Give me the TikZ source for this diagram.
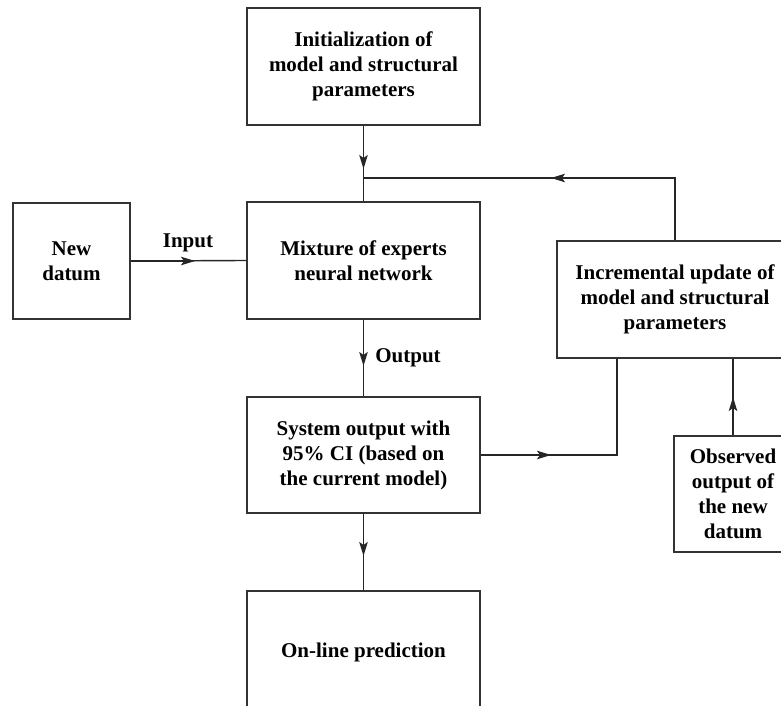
\documentclass[tikz,border=0pt]{standalone}
\usepackage{fontspec}
\setmainfont{Liberation Serif}
\usetikzlibrary{arrows.meta}
\tikzset{
  box/.style={draw=black!80, line width=1.5pt, align=center, inner sep=0pt,
    font=\fontsize{21}{25}\selectfont\bfseries, text=black},
  lbl/.style={font=\fontsize{21}{25}\selectfont\bfseries, text=black, inner sep=0pt},
  conn/.style={draw=black!85, line width=1.4pt},
  arr/.style={conn, -{Stealth[length=14pt,width=8.5pt,inset=3pt]}}
}
\begin{document}
\begin{tikzpicture}[x=1pt,y=-1pt]
\useasboundingbox (0,0) rectangle (781,706);
\clip (0,0) rectangle (781,706);
\node[box, minimum width=233pt, minimum height=117pt] (init) at (363.5,66.5)
  {Initialization of\\model and structural\\parameters};
\node[box, minimum width=233pt, minimum height=117pt] (mix) at (363.5,260.5)
  {Mixture of experts\\neural network};
\node[box, minimum width=117pt, minimum height=116pt] (datum) at (71.5,261)
  {New\\datum};
\node[box, minimum width=233pt, minimum height=116pt] (sys) at (363.5,455)
  {System output with\\95\% CI (based on\\the current model)};
\node[box, minimum width=233pt, minimum height=122pt] (pred) at (363.5,652)
  {On-line prediction};
\node[box, minimum width=236pt, minimum height=117pt] (upd) at (675,299.5)
  {Incremental update of\\model and structural\\parameters};
\node[box, minimum width=118pt, minimum height=116pt] (obs) at (733,494)
  {Observed\\output of\\the new\\datum};
\coordinate (j) at (363.5,178);
\coordinate (k) at (617,455);
\coordinate (t1) at (363.5,169);
\coordinate (t2) at (551,178);
\coordinate (t3) at (195,261);
\coordinate (t4) at (363.5,366);
\coordinate (t5) at (363.5,556);
\coordinate (t6) at (551,455);
\coordinate (t7) at (733,397);
\draw[conn] (init.south) -- (mix.north);
\draw[arr] (init.south) -- (t1);
\draw[conn] (upd.north) -- (upd.north |- j) -- (j);
\draw[arr] (upd.north |- j) -- (t2);
\draw[conn] (datum.east) -- (mix.west);
\draw[arr] (datum.east) -- (t3);
\draw[conn] (mix.south) -- (sys.north);
\draw[arr] (mix.south) -- (t4);
\draw[conn] (sys.south) -- (pred.north);
\draw[arr] (sys.south) -- (t5);
\draw[conn] (sys.east) -- (k) -- (k |- upd.south);
\draw[arr] (sys.east) -- (t6);
\draw[conn] (obs.north) -- (obs.north |- upd.south);
\draw[arr] (obs.north) -- (t7);
\node[lbl] (inlbl) at (188,243) {Input};
\node[lbl] (outlbl) at (408,358) {Output};
\end{tikzpicture}
\end{document}
